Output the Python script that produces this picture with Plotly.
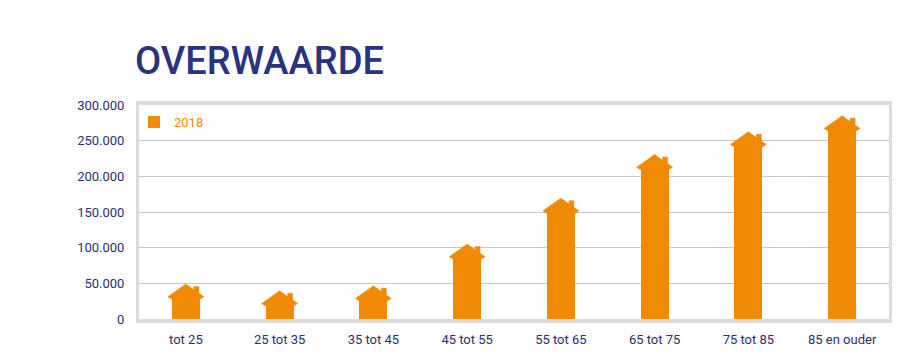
import plotly.graph_objects as go

# ---- data ----
categories = ["tot 25", "25 tot 35", "35 tot 45", "45 tot 55", "55 tot 65",
              "65 tot 75", "75 tot 85", "85 en ouder"]
values_2018 = [49000, 39500, 46600, 105000, 169400, 230600, 262500, 285000]
y_ticks = [0, 50000, 100000, 150000, 200000, 250000, 300000]
y_ticktext = ["0", "50.000", "100.000", "150.000", "200.000", "250.000", "300.000"]
series_name = "2018"

# ---- layout geometry / style ----
W, H = 920, 354
ML, MR, MT, MB = 139, 31, 105, 35
plot_w = W - ML - MR
plot_h = H - MT - MB
YMAX = 300000
px_x = len(categories) / plot_w      # category units per pixel
px_y = YMAX / plot_h                 # data units per pixel

ORANGE = "#f08a00"
NAVY = "#2b2f72"
FRAME = "#dcdcdc"
GRID = "#c9c9c9"

# house roof outline in pixel offsets from the peak (dx right, dd downwards)
roof_px = [(-14.5, 15), (-18, 12.7), (0, 0), (8, 5.7), (8, 2.5), (13, 2.5),
           (13, 9.2), (18, 12.7), (14.5, 15)]
eave_drop_px = 14
body_w_px = 28

xs = list(range(len(categories)))
body_tops = [v - eave_drop_px * px_y for v in values_2018]

rx, ry = [], []
for x, v in zip(xs, values_2018):
    for dx, dd in roof_px:
        rx.append(x + dx * px_x)
        ry.append(v - dd * px_y)
    rx.append(x + roof_px[0][0] * px_x)
    ry.append(v - roof_px[0][1] * px_y)
    rx.append(None)
    ry.append(None)

fig = go.Figure()
fig.add_trace(go.Bar(x=xs, y=body_tops, width=body_w_px * px_x,
                     marker=dict(color=ORANGE, line=dict(width=0)),
                     name=series_name, showlegend=True))
fig.add_trace(go.Scatter(x=rx, y=ry, mode="lines", fill="toself",
                         fillcolor=ORANGE, line=dict(color=ORANGE, width=0.5),
                         hoverinfo="skip", showlegend=False))

fig.update_layout(
    width=W, height=H,
    margin=dict(l=ML, r=MR, t=MT, b=MB, autoexpand=False),
    paper_bgcolor="white", plot_bgcolor="white",
    font=dict(family="Roboto, sans-serif", color=NAVY, size=13),
    title=dict(text="OVERWAARDE", x=135 / W, xanchor="left", xref="container",
               y=1 - 61 / H, yanchor="middle", yref="container",
               font=dict(family="Roboto, sans-serif", size=38, color="#2b3280",
                         weight=500)),
    bargap=0,
    legend=dict(x=-5 / plot_w, y=1 - 2 / plot_h, xanchor="left", yanchor="top",
                bgcolor="rgba(0,0,0,0)", font=dict(color=ORANGE, size=13)),
    showlegend=True,
)
fig.update_xaxes(
    range=[-0.5, len(categories) - 0.5],
    tickvals=xs, ticktext=categories, automargin=False,
    showgrid=False, zeroline=False,
    showline=True, linewidth=4, linecolor=FRAME, mirror=True,
    ticks="", ticklabelstandoff=5,
    tickfont=dict(size=13, color=NAVY),
)
fig.update_yaxes(
    range=[0, YMAX],
    tickvals=y_ticks, ticktext=y_ticktext, automargin=False,
    showgrid=True, gridcolor=GRID, gridwidth=1, zeroline=False,
    showline=True, linewidth=3, linecolor=FRAME, mirror=True,
    ticks="", ticklabelstandoff=9,
    tickfont=dict(size=13, color=NAVY),
)

fig.write_html("out.html")
